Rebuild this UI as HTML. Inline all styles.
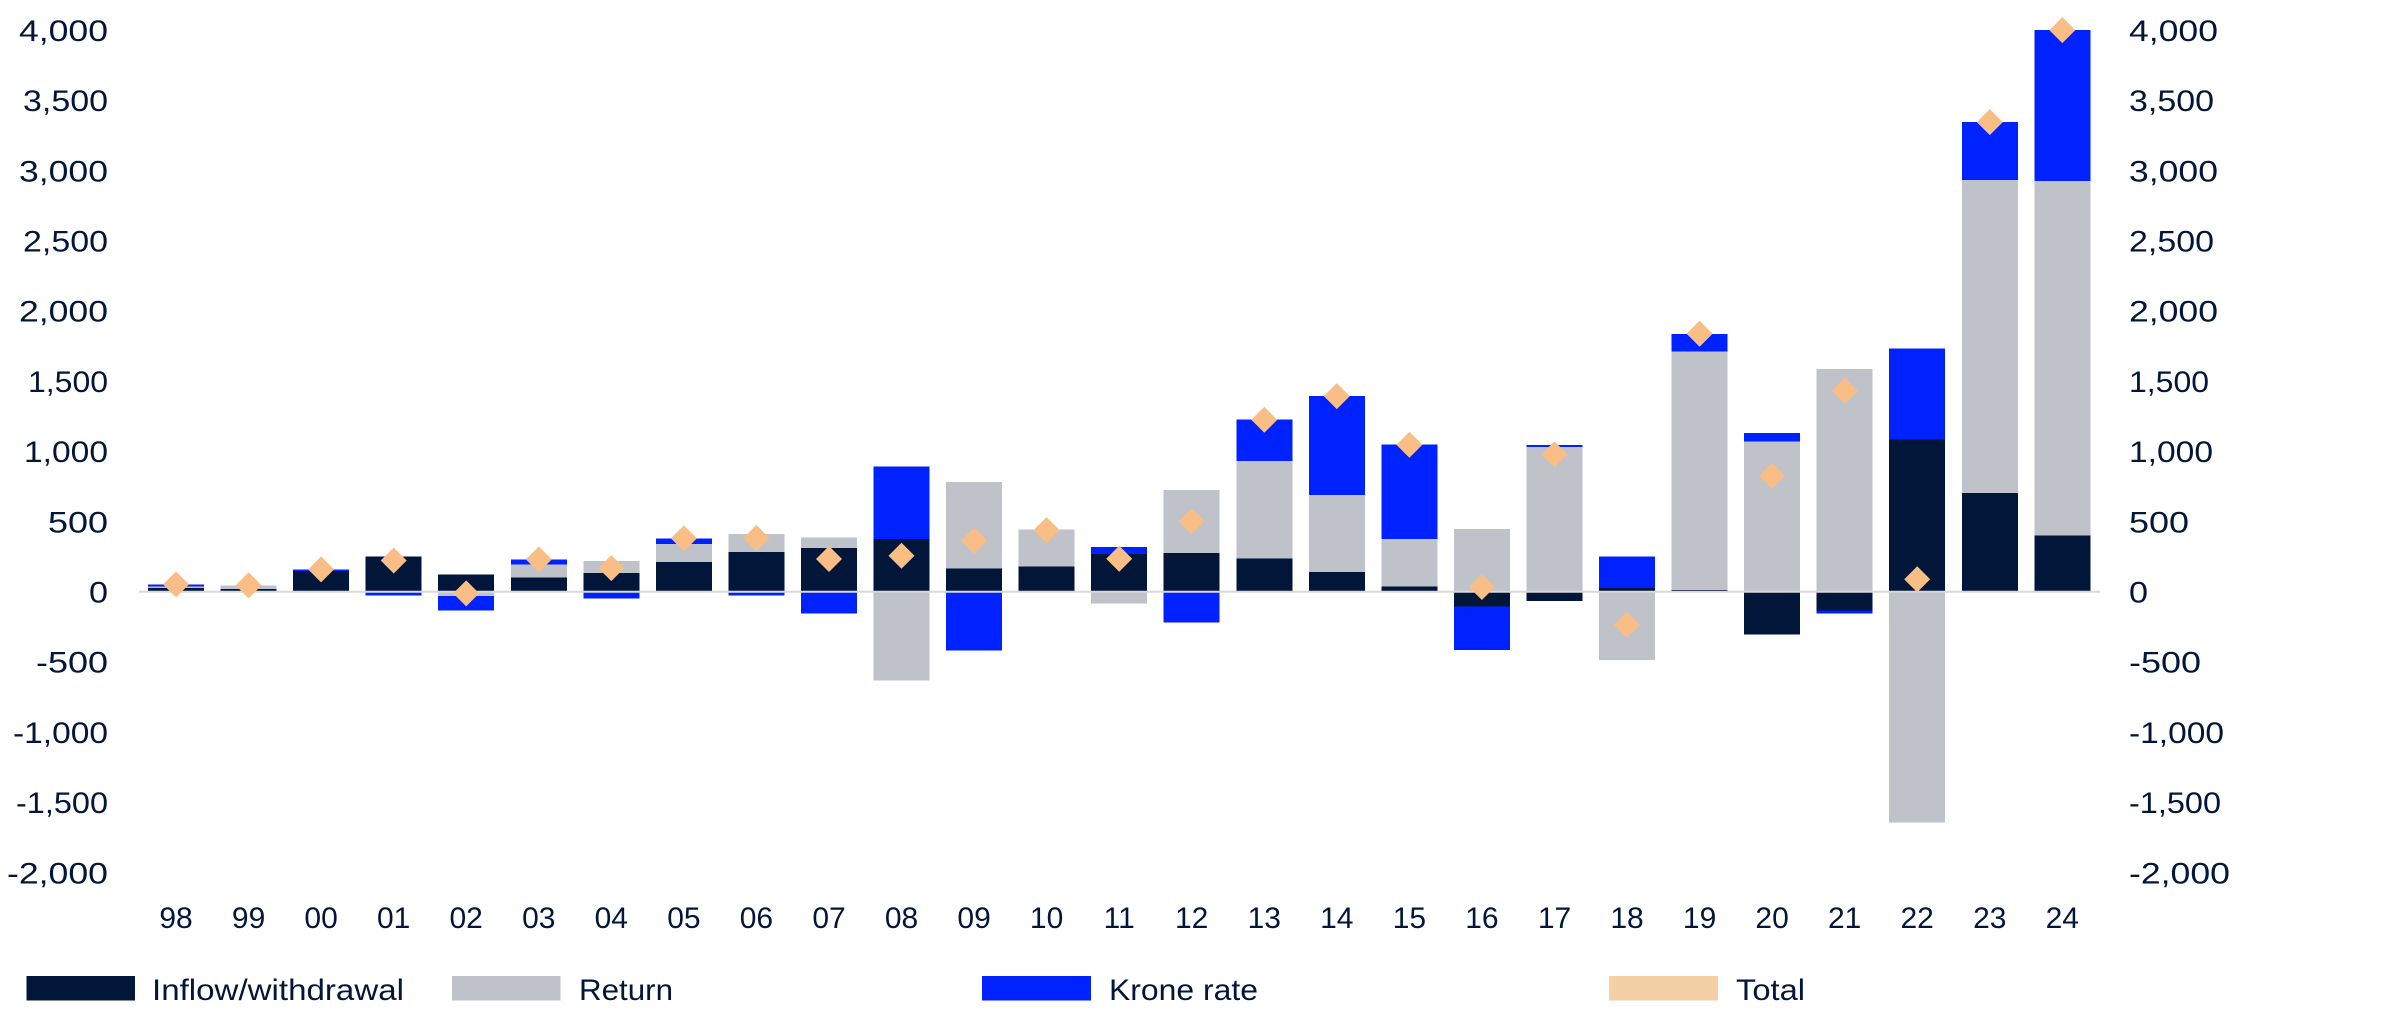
<!DOCTYPE html>
<html><head><meta charset="utf-8"><style>
html,body{margin:0;padding:0;background:#fff;}
svg{display:block;}
text{font-family:"Liberation Sans",Arial,sans-serif;font-size:30px;fill:#021639;}
</style></head><body>
<svg width="2392" height="1030" viewBox="0 0 2392 1030" xmlns="http://www.w3.org/2000/svg">
<rect x="0" y="0" width="2392" height="1030" fill="#fff"/>
<!-- left axis labels -->
<g text-anchor="end" lengthAdjust="spacingAndGlyphs">
<text x="108" y="40.9" textLength="89" lengthAdjust="spacingAndGlyphs">4,000</text>
<text x="108" y="111.1" textLength="85" lengthAdjust="spacingAndGlyphs">3,500</text>
<text x="108" y="181.3" textLength="89" lengthAdjust="spacingAndGlyphs">3,000</text>
<text x="108" y="251.5" textLength="85" lengthAdjust="spacingAndGlyphs">2,500</text>
<text x="108" y="321.7" textLength="89" lengthAdjust="spacingAndGlyphs">2,000</text>
<text x="108" y="391.9" textLength="80" lengthAdjust="spacingAndGlyphs">1,500</text>
<text x="108" y="462.1" textLength="84" lengthAdjust="spacingAndGlyphs">1,000</text>
<text x="108" y="532.3" textLength="60" lengthAdjust="spacingAndGlyphs">500</text>
<text x="108" y="602.5" textLength="19" lengthAdjust="spacingAndGlyphs">0</text>
<text x="108" y="672.7" textLength="72" lengthAdjust="spacingAndGlyphs">-500</text>
<text x="108" y="742.9" textLength="95" lengthAdjust="spacingAndGlyphs">-1,000</text>
<text x="108" y="813.1" textLength="92" lengthAdjust="spacingAndGlyphs">-1,500</text>
<text x="108" y="883.3" textLength="101" lengthAdjust="spacingAndGlyphs">-2,000</text>
</g>
<!-- right axis labels -->
<g text-anchor="start">
<text x="2129" y="40.9" textLength="89" lengthAdjust="spacingAndGlyphs">4,000</text>
<text x="2129" y="111.1" textLength="85" lengthAdjust="spacingAndGlyphs">3,500</text>
<text x="2129" y="181.3" textLength="89" lengthAdjust="spacingAndGlyphs">3,000</text>
<text x="2129" y="251.5" textLength="85" lengthAdjust="spacingAndGlyphs">2,500</text>
<text x="2129" y="321.7" textLength="89" lengthAdjust="spacingAndGlyphs">2,000</text>
<text x="2129" y="391.9" textLength="80" lengthAdjust="spacingAndGlyphs">1,500</text>
<text x="2129" y="462.1" textLength="84" lengthAdjust="spacingAndGlyphs">1,000</text>
<text x="2129" y="532.3" textLength="60" lengthAdjust="spacingAndGlyphs">500</text>
<text x="2129" y="602.5" textLength="19" lengthAdjust="spacingAndGlyphs">0</text>
<text x="2129" y="672.7" textLength="72" lengthAdjust="spacingAndGlyphs">-500</text>
<text x="2129" y="742.9" textLength="95" lengthAdjust="spacingAndGlyphs">-1,000</text>
<text x="2129" y="813.1" textLength="92" lengthAdjust="spacingAndGlyphs">-1,500</text>
<text x="2129" y="883.3" textLength="101" lengthAdjust="spacingAndGlyphs">-2,000</text>
</g>
<!-- bars -->
<g shape-rendering="crispEdges">
<!-- 98 -->
<rect x="148" y="587.8" width="56" height="3.9" fill="#021639"/>
<rect x="148" y="586.4" width="56" height="1.4" fill="#BFC2C9"/>
<rect x="148" y="584.4" width="56" height="2.0" fill="#0022FF"/>
<!-- 99 -->
<rect x="220.6" y="589.0" width="56" height="2.7" fill="#021639"/>
<rect x="220.6" y="585.4" width="56" height="3.6" fill="#BFC2C9"/>
<!-- 00 -->
<rect x="293.1" y="571.1" width="56" height="20.6" fill="#021639"/>
<rect x="293.1" y="569.4" width="56" height="1.7" fill="#0022FF"/>
<!-- 01 -->
<rect x="365.7" y="556.7" width="56" height="35.0" fill="#021639"/>
<rect x="365.7" y="591.7" width="56" height="3.9" fill="#0022FF"/>
<!-- 02 -->
<rect x="438.2" y="574.7" width="56" height="17.0" fill="#021639"/>
<rect x="438.2" y="591.7" width="56" height="4.4" fill="#BFC2C9"/>
<rect x="438.2" y="596.1" width="56" height="14.3" fill="#0022FF"/>
<!-- 03 -->
<rect x="510.8" y="577.7" width="56" height="14.0" fill="#021639"/>
<rect x="510.8" y="564.3" width="56" height="13.4" fill="#BFC2C9"/>
<rect x="510.8" y="559.4" width="56" height="4.9" fill="#0022FF"/>
<!-- 04 -->
<rect x="583.3" y="573.0" width="56" height="18.7" fill="#021639"/>
<rect x="583.3" y="561.1" width="56" height="11.9" fill="#BFC2C9"/>
<rect x="583.3" y="591.7" width="56" height="7.0" fill="#0022FF"/>
<!-- 05 -->
<rect x="655.9" y="561.1" width="56" height="30.6" fill="#021639"/>
<rect x="655.9" y="544.0" width="56" height="18.1" fill="#BFC2C9"/>
<rect x="655.9" y="538.4" width="56" height="5.6" fill="#0022FF"/>
<!-- 06 -->
<rect x="728.4" y="552.1" width="56" height="39.6" fill="#021639"/>
<rect x="728.4" y="534.0" width="56" height="18.1" fill="#BFC2C9"/>
<rect x="728.4" y="591.7" width="56" height="3.9" fill="#0022FF"/>
<!-- 07 -->
<rect x="801.0" y="548.0" width="56" height="43.7" fill="#021639"/>
<rect x="801.0" y="537.4" width="56" height="10.7" fill="#BFC2C9"/>
<rect x="801.0" y="591.7" width="56" height="21.6" fill="#0022FF"/>
<!-- 08 -->
<rect x="873.5" y="538.8" width="56" height="52.9" fill="#021639"/>
<rect x="873.5" y="466.7" width="56" height="72.1" fill="#0022FF"/>
<rect x="873.5" y="591.7" width="56" height="89.0" fill="#BFC2C9"/>
<!-- 09 -->
<rect x="946.1" y="568.4" width="56" height="23.3" fill="#021639"/>
<rect x="946.1" y="482.1" width="56" height="86.3" fill="#BFC2C9"/>
<rect x="946.1" y="591.7" width="56" height="58.7" fill="#0022FF"/>
<!-- 10 -->
<rect x="1018.6" y="566.7" width="56" height="25.0" fill="#021639"/>
<rect x="1018.6" y="529.4" width="56" height="37.3" fill="#BFC2C9"/>
<!-- 11 -->
<rect x="1091.2" y="554.1" width="56" height="37.6" fill="#021639"/>
<rect x="1091.2" y="546.8" width="56" height="7.3" fill="#0022FF"/>
<rect x="1091.2" y="591.7" width="56" height="11.9" fill="#BFC2C9"/>
<!-- 12 -->
<rect x="1163.7" y="553.1" width="56" height="38.6" fill="#021639"/>
<rect x="1163.7" y="490.1" width="56" height="63.0" fill="#BFC2C9"/>
<rect x="1163.7" y="591.7" width="56" height="31.0" fill="#0022FF"/>
<!-- 13 -->
<rect x="1236.3" y="558.7" width="56" height="33.0" fill="#021639"/>
<rect x="1236.3" y="461.0" width="56" height="97.7" fill="#BFC2C9"/>
<rect x="1236.3" y="419.4" width="56" height="41.6" fill="#0022FF"/>
<!-- 14 -->
<rect x="1308.8" y="572.0" width="56" height="19.7" fill="#021639"/>
<rect x="1308.8" y="495.1" width="56" height="76.9" fill="#BFC2C9"/>
<rect x="1308.8" y="396.1" width="56" height="99.0" fill="#0022FF"/>
<!-- 15 -->
<rect x="1381.4" y="586.4" width="56" height="5.3" fill="#021639"/>
<rect x="1381.4" y="538.9" width="56" height="47.5" fill="#BFC2C9"/>
<rect x="1381.4" y="444.6" width="56" height="94.3" fill="#0022FF"/>
<!-- 16 -->
<rect x="1453.9" y="529.1" width="56" height="62.6" fill="#BFC2C9"/>
<rect x="1453.9" y="591.7" width="56" height="15.0" fill="#021639"/>
<rect x="1453.9" y="606.7" width="56" height="43.2" fill="#0022FF"/>
<!-- 17 -->
<rect x="1526.5" y="447.1" width="56" height="144.6" fill="#BFC2C9"/>
<rect x="1526.5" y="445.1" width="56" height="2.0" fill="#0022FF"/>
<rect x="1526.5" y="591.7" width="56" height="9.3" fill="#021639"/>
<!-- 18 -->
<rect x="1599.0" y="588.1" width="56" height="3.6" fill="#021639"/>
<rect x="1599.0" y="556.3" width="56" height="31.8" fill="#0022FF"/>
<rect x="1599.0" y="591.7" width="56" height="68.4" fill="#BFC2C9"/>
<!-- 19 -->
<rect x="1671.6" y="590.0" width="56" height="1.7" fill="#021639"/>
<rect x="1671.6" y="351.3" width="56" height="238.7" fill="#BFC2C9"/>
<rect x="1671.6" y="333.8" width="56" height="17.5" fill="#0022FF"/>
<!-- 20 -->
<rect x="1744.1" y="441.3" width="56" height="150.4" fill="#BFC2C9"/>
<rect x="1744.1" y="433.1" width="56" height="8.2" fill="#0022FF"/>
<rect x="1744.1" y="591.7" width="56" height="42.7" fill="#021639"/>
<!-- 21 -->
<rect x="1816.7" y="369.2" width="56" height="222.5" fill="#BFC2C9"/>
<rect x="1816.7" y="591.7" width="56" height="19.0" fill="#021639"/>
<rect x="1816.7" y="610.7" width="56" height="2.7" fill="#0022FF"/>
<!-- 22 -->
<rect x="1889.2" y="439.7" width="56" height="152.0" fill="#021639"/>
<rect x="1889.2" y="348.7" width="56" height="91.0" fill="#0022FF"/>
<rect x="1889.2" y="591.7" width="56" height="230.7" fill="#BFC2C9"/>
<!-- 23 -->
<rect x="1961.8" y="493.0" width="56" height="98.7" fill="#021639"/>
<rect x="1961.8" y="180.1" width="56" height="312.9" fill="#BFC2C9"/>
<rect x="1961.8" y="122.1" width="56" height="58.0" fill="#0022FF"/>
<!-- 24 -->
<rect x="2034.3" y="535.7" width="56" height="56.0" fill="#021639"/>
<rect x="2034.3" y="181.0" width="56" height="354.7" fill="#BFC2C9"/>
<rect x="2034.3" y="30.1" width="56" height="150.9" fill="#0022FF"/>
</g>
<!-- zero line -->
<line x1="139" y1="591.7" x2="2100" y2="591.7" stroke="#D8D8DA" stroke-width="2"/>
<!-- total diamonds -->
<g fill="#F9BE85">
<polygon points="176,571.4 189,584.4 176,597.4 163,584.4"/>
<polygon points="248.6,572.4 261.6,585.4 248.6,598.4 235.6,585.4"/>
<polygon points="321.1,556.4 334.1,569.4 321.1,582.4 308.1,569.4"/>
<polygon points="393.7,547.5 406.7,560.5 393.7,573.5 380.7,560.5"/>
<polygon points="466.2,580.4 479.2,593.4 466.2,606.4 453.2,593.4"/>
<polygon points="538.8,546.4 551.8,559.4 538.8,572.4 525.8,559.4"/>
<polygon points="611.3,555.1 624.3,568.1 611.3,581.1 598.3,568.1"/>
<polygon points="683.9,525.4 696.9,538.4 683.9,551.4 670.9,538.4"/>
<polygon points="756.4,524.9 769.4,537.9 756.4,550.9 743.4,537.9"/>
<polygon points="829,546 842,559 829,572 816,559"/>
<polygon points="901.5,542.8 914.5,555.8 901.5,568.8 888.5,555.8"/>
<polygon points="974.1,527.7 987.1,540.7 974.1,553.7 961.1,540.7"/>
<polygon points="1046.6,517.1 1059.6,530.1 1046.6,543.1 1033.6,530.1"/>
<polygon points="1119.2,545.7 1132.2,558.7 1119.2,571.7 1106.2,558.7"/>
<polygon points="1191.7,508.1 1204.7,521.1 1191.7,534.1 1178.7,521.1"/>
<polygon points="1264.3,406.8 1277.3,419.8 1264.3,432.8 1251.3,419.8"/>
<polygon points="1336.8,383.1 1349.8,396.1 1336.8,409.1 1323.8,396.1"/>
<polygon points="1409.4,431.8 1422.4,444.8 1409.4,457.8 1396.4,444.8"/>
<polygon points="1481.9,574 1494.9,587 1481.9,600 1468.9,587"/>
<polygon points="1554.5,441.4 1567.5,454.4 1554.5,467.4 1541.5,454.4"/>
<polygon points="1627,611.7 1640,624.7 1627,637.7 1614,624.7"/>
<polygon points="1699.6,320.8 1712.6,333.8 1699.6,346.8 1686.6,333.8"/>
<polygon points="1772.1,462.7 1785.1,475.7 1772.1,488.7 1759.1,475.7"/>
<polygon points="1844.7,377.8 1857.7,390.8 1844.7,403.8 1831.7,390.8"/>
<polygon points="1917.2,566.3 1930.2,579.3 1917.2,592.3 1904.2,579.3"/>
<polygon points="1989.8,109.1 2002.8,122.1 1989.8,135.1 1976.8,122.1"/>
<polygon points="2062.3,17.1 2075.3,30.1 2062.3,43.1 2049.3,30.1"/>
</g>
<!-- x labels -->
<g text-anchor="middle">
<text x="176" y="928">98</text>
<text x="248.6" y="928">99</text>
<text x="321.1" y="928">00</text>
<text x="393.7" y="928">01</text>
<text x="466.2" y="928">02</text>
<text x="538.8" y="928">03</text>
<text x="611.3" y="928">04</text>
<text x="683.9" y="928">05</text>
<text x="756.4" y="928">06</text>
<text x="829" y="928">07</text>
<text x="901.5" y="928">08</text>
<text x="974.1" y="928">09</text>
<text x="1046.6" y="928">10</text>
<text x="1119.2" y="928">11</text>
<text x="1191.7" y="928">12</text>
<text x="1264.3" y="928">13</text>
<text x="1336.8" y="928">14</text>
<text x="1409.4" y="928">15</text>
<text x="1481.9" y="928">16</text>
<text x="1554.5" y="928">17</text>
<text x="1627" y="928">18</text>
<text x="1699.6" y="928">19</text>
<text x="1772.1" y="928">20</text>
<text x="1844.7" y="928">21</text>
<text x="1917.2" y="928">22</text>
<text x="1989.8" y="928">23</text>
<text x="2062.3" y="928">24</text>
</g>
<!-- legend -->
<rect x="26.5" y="976" width="108.5" height="24.5" fill="#021639"/>
<text x="152" y="1000" textLength="252" lengthAdjust="spacingAndGlyphs">Inflow/withdrawal</text>
<rect x="452" y="976" width="108.5" height="24.5" fill="#BFC2C9"/>
<text x="579" y="1000" textLength="94" lengthAdjust="spacingAndGlyphs">Return</text>
<rect x="982" y="976" width="109" height="24.5" fill="#0022FF"/>
<text x="1109" y="1000" textLength="149" lengthAdjust="spacingAndGlyphs">Krone rate</text>
<rect x="1609" y="976" width="109" height="24.5" fill="#F5CFA6"/>
<text x="1736" y="1000" textLength="69" lengthAdjust="spacingAndGlyphs">Total</text>
</svg>
</body></html>
